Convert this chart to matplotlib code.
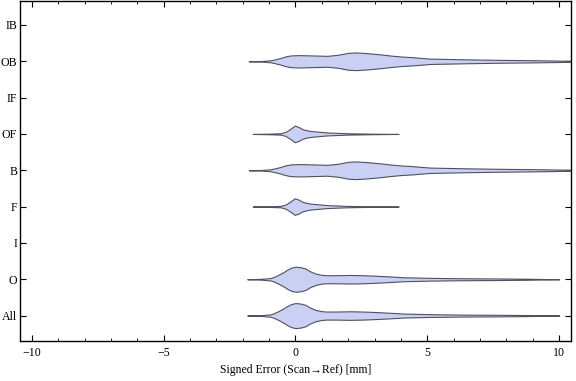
import matplotlib
matplotlib.use("Agg")
import matplotlib.pyplot as plt
import numpy as np
from matplotlib.ticker import MultipleLocator

plt.rcParams['font.family'] = ['Liberation Serif', 'DejaVu Serif']
plt.rcParams['axes.unicode_minus'] = True

categories = ["All", "O", "I", "F", "B", "OF", "IF", "OB", "IB"]

# violin profiles: x positions [mm] and half-widths (in category units)
all_x = [-1.83, -1.3, -0.95, -0.82, -0.63, -0.45, -0.31, -0.15, 0.0, 0.2, 0.38, 0.55, 0.76, 1.0, 1.2, 1.6, 2.08, 2.5, 2.95, 3.5, 4.1, 5.1, 6.3, 7.6, 8.8, 10.0]
all_w = [0.0, 0.011, 0.033, 0.063, 0.129, 0.2, 0.266, 0.32, 0.345, 0.33, 0.294, 0.22, 0.156, 0.12, 0.11, 0.112, 0.118, 0.112, 0.1, 0.08, 0.055, 0.038, 0.027, 0.022, 0.014, 0.0]

o_x = all_x
o_w = all_w

f_x = [-1.62, -1.0, -0.57, -0.38, -0.2, -0.03, 0.12, 0.25, 0.4, 0.57, 0.9, 1.2, 1.95, 2.84, 3.91]
f_w = [0.0, 0.008, 0.019, 0.055, 0.137, 0.228, 0.192, 0.137, 0.104, 0.082, 0.06, 0.041, 0.019, 0.008, 0.0]

of_x = f_x
of_w = f_w

b_x = [-1.77, -1.3, -0.95, -0.8, -0.57, -0.4, -0.2, 0.1, 0.44, 0.8, 1.2, 1.6, 2.0, 2.3, 2.7, 3.2, 3.6, 4.0, 4.4, 5.1, 6.4, 7.6, 9.0, 10.5]
b_w = [0.0, 0.008, 0.027, 0.05, 0.09, 0.13, 0.16, 0.17, 0.165, 0.158, 0.15, 0.178, 0.232, 0.244, 0.225, 0.192, 0.159, 0.132, 0.115, 0.074, 0.055, 0.041, 0.03, 0.014]

ob_x = b_x
ob_w = b_w

violins = {"All": (all_x, all_w), "O": (o_x, o_w), "F": (f_x, f_w),
           "B": (b_x, b_w), "OF": (of_x, of_w), "OB": (ob_x, ob_w)}

fig = plt.figure(figsize=(5.76, 3.81), dpi=100)
ax = fig.add_axes([20/576, 40/381, 551/576, 340/381])

for name, (xs, ws) in violins.items():
    pos = categories.index(name) + 1
    xs = np.asarray(xs)
    ws = np.asarray(ws)
    ax.fill_between(xs, pos - ws, pos + ws, facecolor='#cad0f4',
                    edgecolor='#50505e', linewidth=0.8, zorder=2)

ax.set_xlim(-10.45, 10.45)
ax.set_ylim(0.3, 9.66)
ax.set_yticks(range(1, len(categories) + 1))
ax.set_yticklabels(categories)
ax.xaxis.set_major_locator(MultipleLocator(5))
ax.xaxis.set_minor_locator(MultipleLocator(1))
ax.tick_params(axis='both', which='both', direction='in', top=True, right=True,
               labelsize=8.6, color='black')
ax.tick_params(axis='x', which='major', length=4, width=0.8, pad=4)
ax.tick_params(axis='x', which='minor', length=2.2, width=0.6)
ax.tick_params(axis='y', which='major', length=4, width=0.8, pad=2)
for s in ax.spines.values():
    s.set_linewidth(1.0)
ax.set_xlabel("Signed Error (Scan\u2192Ref) [mm]", fontsize=8.5, labelpad=4)

fig.savefig("out.png", dpi=100)
